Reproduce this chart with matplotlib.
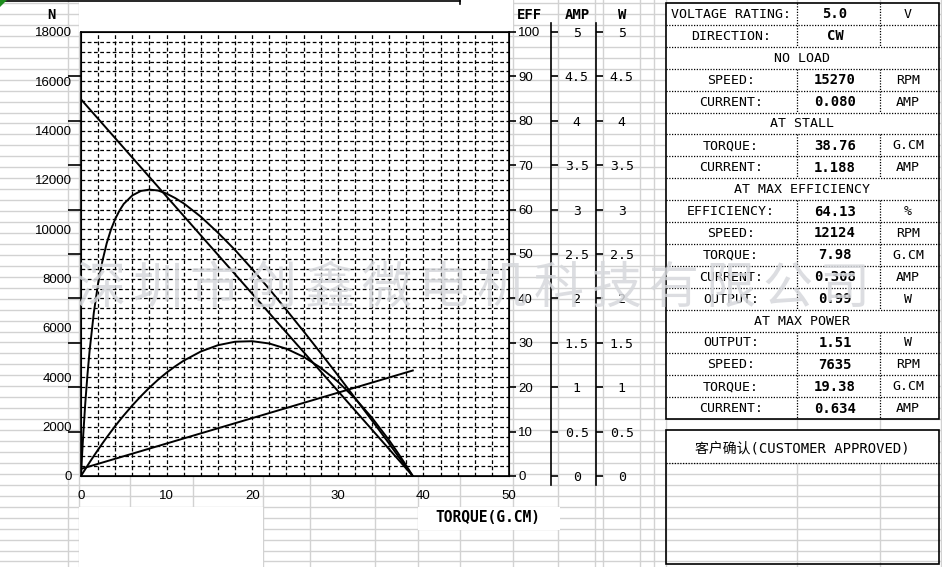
import matplotlib
matplotlib.use('Agg')

import matplotlib.pyplot as plt
from matplotlib.patches import Rectangle, Polygon
from matplotlib.ticker import FixedLocator

# ---- curve readings (torque in G.CM) ----
torque = [0, 0.1, 0.25, 0.5, 0.75, 1, 1.5, 2, 2.5, 3, 3.5, 4, 4.5, 5,
          6, 7, 8, 9, 10, 11, 12,
          14, 16, 18, 20, 22, 24, 26, 28, 30, 32, 34, 36, 37, 38, 38.76]
efficiency = [0, 3.8, 8.9, 16.4, 22.7, 28.1, 36.8, 43.4, 48.4, 52.4, 55.5, 57.9, 59.8, 61.3,
              63.2, 64.2, 64.5, 64.3, 63.6, 62.6, 61.4,
              58.4, 54.8, 50.9, 46.6, 42.1, 37.4, 32.6, 27.7, 22.7, 17.6, 12.5, 7.3, 4.6, 2.0, 0]
output_w = [0, 0.016, 0.039, 0.077, 0.115, 0.153, 0.226, 0.297, 0.367, 0.434, 0.499, 0.563,
            0.624, 0.683,
            0.795, 0.899, 0.996, 1.084, 1.164, 1.235, 1.299,
            1.402, 1.473, 1.512, 1.518, 1.492, 1.433, 1.342, 1.219, 1.063, 0.875, 0.655,
            0.402, 0.263, 0.117, 0]
speed_torque = [0, 38.76]
speed_rpm = [15270, 0]
current_torque = [0, 38.76]
current_amp = [0.080, 1.188]

# ---- axis ticks ----
torque_ticks = [0, 10, 20, 30, 40, 50]
speed_ticks = list(range(0, 18001, 2000))
eff_ticks = list(range(0, 101, 10))
amp_ticks = [0, 0.5, 1, 1.5, 2, 2.5, 3, 3.5, 4, 4.5, 5]
amp_labels = ["0", "0.5", "1", "1.5", "2", "2.5", "3", "3.5", "4", "4.5", "5"]
w_ticks = amp_ticks
w_labels = amp_labels

# ---- spec table ----
table_labels = ["VOLTAGE RATING:", "DIRECTION:", "NO LOAD", "SPEED:", "CURRENT:",
                "AT STALL", "TORQUE:", "CURRENT:", "AT MAX EFFICIENCY",
                "EFFICIENCY:", "SPEED:", "TORQUE:", "CURRENT:", "OUTPUT:",
                "AT MAX POWER", "OUTPUT:", "SPEED:", "TORQUE:", "CURRENT:"]
table_values = ["5.0", "CW", None, "15270", "0.080", None, "38.76", "1.188", None,
                "64.13", "12124", "7.98", "0.308", "0.99", None, "1.51", "7635",
                "19.38", "0.634"]
table_units = ["V", "", None, "RPM", "AMP", None, "G.CM", "AMP", None, "%", "RPM",
               "G.CM", "AMP", "W", None, "W", "RPM", "G.CM", "AMP"]

watermark = "深圳市创鑫微电机科技有限公司"
customer_title = "客户确认(CUSTOMER APPROVED)"

W, H = 942, 567
MONO = 'DejaVu Sans Mono'
SANS = 'Liberation Sans'

fig = plt.figure(figsize=(W / 100, H / 100), dpi=100)

# ==============================
# spreadsheet background
# ==============================
bg = fig.add_axes([0, 0, 1, 1], zorder=0)
bg.set_xlim(0, W)
bg.set_ylim(H, 0)
bg.axis('off')

sheet_gray = '#d2d2d2'
for k in range(52):
    y = 3 + 10.95 * k
    bg.plot([0, W], [y, y], color=sheet_gray, lw=1, zorder=1)
for x in [68, 79, 130, 193, 263, 310, 375, 418, 460, 513, 558, 595, 603, 640,
          654, 666, 797, 880, 941]:
    bg.plot([x, x], [0, H], color=sheet_gray, lw=1, zorder=1)

for x0, y0, x1, y1 in [(79, 0, 513, 32), (79, 507, 263, H), (418, 507, 560, 530),
                       (666, 3, 939, 419), (666, 430, 939, 463)]:
    bg.add_patch(Rectangle((x0, y0), x1 - x0, y1 - y0, facecolor='white',
                           edgecolor='none', zorder=2))

# top frame line + excel comment marker
bg.plot([0, 460], [0.8, 0.8], color='black', lw=1.2, zorder=3)
bg.plot([460, 460], [0, 4], color='black', lw=1.2, zorder=3)
bg.add_patch(Polygon([(0, 0), (7, 0), (0, 7)], closed=True, facecolor='#1e8c1e',
                     edgecolor='none', zorder=4))

# header texts
for txt, x in [("N", 51), ("EFF", 529), ("AMP", 577), ("W", 622)]:
    bg.text(x, 15, txt, ha='center', va='center', fontfamily=MONO,
            fontweight='bold', fontsize=10, zorder=5)
bg.text(488, 518, "TORQUE(G.CM)", ha='center', va='center', fontfamily=MONO,
        fontweight='bold', fontsize=10.5, zorder=5)

# ==============================
# spec table
# ==============================
tx0, tx1, ty0 = 666, 939, 3
row_h = 21.9
col_a, col_b = 797, 880
dot = (0, (1, 1.2))
n_rows = len(table_labels)
bg.add_patch(Rectangle((tx0, ty0), tx1 - tx0, row_h * n_rows, facecolor='none',
                       edgecolor='black', lw=1.2, zorder=5))
for i, lab in enumerate(table_labels):
    top = ty0 + i * row_h
    yc = top + row_h / 2 + 0.5
    if i > 0:
        bg.plot([tx0, tx1], [top, top], color='black', lw=0.9, ls=dot, zorder=4)
    if table_values[i] is None:
        bg.text((tx0 + tx1) / 2, yc, lab, ha='center', va='center',
                fontfamily=MONO, fontsize=9.5, zorder=5)
        continue
    for cx in (col_a, col_b):
        bg.plot([cx, cx], [top, top + row_h], color='black', lw=0.9, ls=dot,
                zorder=4)
    bg.text(731, yc, lab, ha='center', va='center', fontfamily=MONO,
            fontsize=9.5, zorder=5)
    bg.text(835, yc, table_values[i], ha='center', va='center', fontfamily=MONO,
            fontweight='bold', fontsize=10, zorder=5)
    bg.text(908, yc, table_units[i], ha='center', va='center', fontfamily=MONO,
            fontsize=9.5, zorder=5)

# customer approval box
bg.add_patch(Rectangle((tx0, 430), tx1 - tx0, 134, facecolor='none',
                       edgecolor='black', lw=1.2, zorder=5))
bg.plot([tx0, tx1], [463, 463], color='black', lw=0.9, ls=dot, zorder=5)
bg.text((tx0 + tx1) / 2, 448, customer_title, ha='center', va='center',
        family=[MONO, 'Noto Sans CJK SC'], fontsize=10, zorder=5)

# ==============================
# performance chart
# ==============================
L, T, R, B = 81, 32, 509, 476
ax = fig.add_axes([L / W, 1 - B / H, (R - L) / W, (B - T) / H], zorder=2)
ax.set_facecolor('white')
ax.set_xlim(0, 50)
ax.set_ylim(0, 18000)
for s in ax.spines.values():
    s.set_linewidth(1.2)

# dashed grid
for gx in range(2, 50, 2):
    ax.axvline(gx, color='black', lw=0.9, ls=(0, (3, 2)), zorder=1)
for gy in range(400, 18000, 400):
    ax.axhline(gy, color='black', lw=0.9, ls=(0, (3, 2)), zorder=1)

ax.set_xticks(torque_ticks)
ax.set_xticklabels([str(v) for v in torque_ticks], fontfamily=SANS, fontsize=9.5)
ax.tick_params(axis='x', length=0, pad=10)
ax.set_yticks(speed_ticks)
ax.set_yticklabels([str(v) for v in speed_ticks], fontfamily=SANS, fontsize=9.5)
ax.yaxis.set_minor_locator(FixedLocator(list(range(0, 18001, 1800))))
ax.tick_params(axis='y', which='major', length=0, pad=6.5)
ax.tick_params(axis='y', which='minor', length=9.5, width=1.2)

ax.plot(speed_torque, speed_rpm, color='black', lw=1.4, zorder=3)

# efficiency axis (right spine of plot)
ax_eff = ax.twinx()
ax_eff.set_zorder(3)
ax_eff.set_ylim(0, 100)
ax_eff.set_yticks(eff_ticks)
ax_eff.set_yticklabels([str(v) for v in eff_ticks], fontfamily=SANS, fontsize=9.5)
ax_eff.tick_params(axis='y', length=5, width=1.2, pad=1.5)
ax_eff.plot(torque, efficiency, color='black', lw=1.4)

# current axis and output axis
side_axes = []
for pos_px, ticks, labels in [(551, amp_ticks, amp_labels), (596, w_ticks, w_labels)]:
    a = ax.twinx()
    a.set_zorder(4)
    a.set_ylim(0, 5)
    sp = a.spines['right']
    sp.set_position(('axes', (pos_px - L) / (R - L)))
    sp.set_bounds(-0.1, 5.1)
    sp.set_linewidth(1.2)
    for s in ['left', 'top', 'bottom']:
        a.spines[s].set_visible(False)
    a.set_yticks(ticks)
    a.set_yticklabels(labels, fontfamily=MONO, fontsize=9.5)
    a.tick_params(axis='y', length=5, width=1.2, pad=13.5)
    for t in a.get_yticklabels():
        t.set_ha('center')
    side_axes.append(a)

ax_amp, ax_w = side_axes
ax_amp.plot(current_torque, current_amp, color='black', lw=1.4)
ax_w.plot(torque, output_w, color='black', lw=1.4)

# watermark over everything
for i, ch in enumerate(watermark):
    fig.text((100 + 57.3 * i) / W, 1 - 289 / H, ch, ha='center', va='center',
             fontfamily='Noto Sans CJK SC', fontsize=36, color='#d6d8dc',
             alpha=0.85, zorder=20)

fig.savefig('out.png', dpi=100)
